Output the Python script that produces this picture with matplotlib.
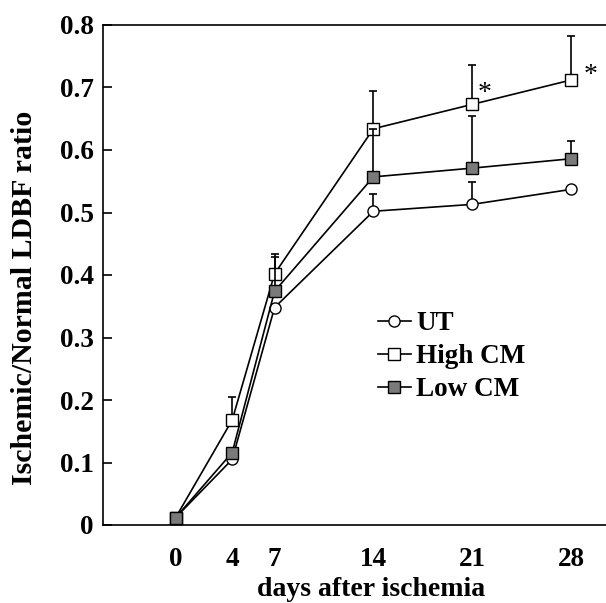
import numpy as np
import matplotlib.pyplot as plt
from matplotlib.lines import Line2D

days = [0, 4, 7, 14, 21, 28]
ut = [0.012, 0.105, 0.348, 0.502, 0.513, 0.537]
ut_err = [0.0, 0.0, 0.0, 0.028, 0.036, 0.0]
high_cm = [0.012, 0.168, 0.402, 0.634, 0.673, 0.712]
high_err = [0.0, 0.037, 0.032, 0.060, 0.063, 0.070]
low_cm = [0.012, 0.116, 0.374, 0.557, 0.571, 0.586]
low_err = [0.0, 0.0, 0.055, 0.076, 0.083, 0.029]
star_pos = [(21.9, 0.691), (29.4, 0.720)]

plt.rcParams["font.family"] = ["Liberation Serif", "DejaVu Serif"]
plt.rcParams["font.weight"] = "bold"

fig = plt.figure(figsize=(6.06, 6.03), dpi=100)
ax = fig.add_axes([103 / 606, 1 - 525 / 603, 1 - 103 / 606 + 0.01, 500 / 603])

common = dict(color="black", lw=1.2, ms=8, capsize=3, elinewidth=1.2, capthick=1.2)
ax.errorbar(days, ut, yerr=[np.zeros(6), ut_err], marker="o", mfc="white",
            mec="black", zorder=3, **common)
ax.errorbar(days, high_cm, yerr=[np.zeros(6), high_err], marker="s", mfc="white",
            mec="black", zorder=3, **common)
ax.errorbar(days, low_cm, yerr=[np.zeros(6), low_err], marker="s", mfc="#7a7a7a",
            mec="black", zorder=4, **common)

for x, y in star_pos:
    ax.text(x, y, "*", ha="center", va="center", fontsize=20, fontweight="normal")

ax.set_xlim(-5.15, 30.9)
ax.set_ylim(0, 0.8)
ax.set_xticks(days)
ax.set_yticks(np.arange(0, 0.81, 0.1))
ax.set_yticklabels(["0"] + [f"{v:.1f}" for v in np.arange(0.1, 0.81, 0.1)])
ax.tick_params(axis="y", direction="in", length=6.5, width=1.2, pad=6.5, labelsize=19.5)
ax.tick_params(axis="x", length=0, pad=16, labelsize=19.5)
ax.spines["right"].set_visible(False)
for s in ["left", "top", "bottom"]:
    ax.spines[s].set_linewidth(1.2)

ax.set_xlabel("days after ischemia", fontsize=20, fontweight="bold")
ax.set_ylabel("Ischemic/Normal LDBF ratio", fontsize=21.5, fontweight="bold")
ax.xaxis.set_label_coords(0.527, -0.103)
ax.yaxis.set_label_coords(-0.128, 0.455)

handles = [
    Line2D([], [], color="black", lw=1.2, marker="o", ms=8, mfc="white", mec="black"),
    Line2D([], [], color="black", lw=1.2, marker="s", ms=8, mfc="white", mec="black"),
    Line2D([], [], color="black", lw=1.2, marker="s", ms=8, mfc="#7a7a7a", mec="black"),
]
ax.legend(handles, ["UT", "High CM", "Low CM"], loc="upper left",
          bbox_to_anchor=(378 / 606, 1 - 311 / 603), bbox_transform=fig.transFigure,
          frameon=False, fontsize=19.5, handlelength=1.2, handletextpad=0.2,
          labelspacing=0.3, borderpad=0, borderaxespad=0)

fig.savefig("out.png", dpi=100)
